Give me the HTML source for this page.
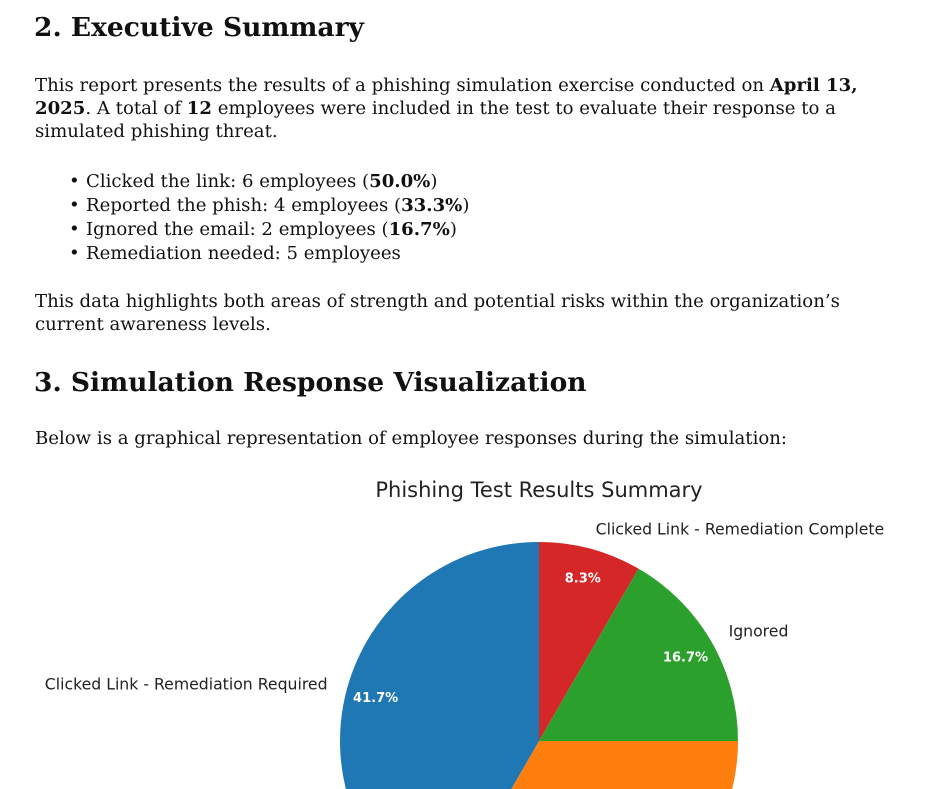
<!DOCTYPE html>
<html><head><meta charset="utf-8"><style>
html,body{overflow:hidden}
body{margin:0;width:946px;height:789px;overflow:hidden;background:#fff;position:relative;font-family:"DejaVu Serif","Liberation Serif",serif;color:#111}
.a{position:absolute;white-space:nowrap}
h2{margin:0;font-size:26.5px;font-weight:bold}
.p{font-size:18.1px;line-height:23px}
ul{margin:0;padding:0;list-style:none}
li{position:relative;padding-left:17px;height:24px}
li:before{content:"•";position:absolute;left:0}
</style></head><body>
<h2 class="a" style="left:34px;top:12px">2. Executive Summary</h2>
<div class="a p" style="left:35px;top:74px">This report presents the results of a phishing simulation exercise conducted on <b>April 13,</b><br><b>2025</b>. A total of <b>12</b> employees were included in the test to evaluate their response to a<br>simulated phishing threat.</div>
<ul class="a p" style="left:69px;top:170px">
<li>Clicked the link: 6 employees (<b>50.0%</b>)</li>
<li>Reported the phish: 4 employees (<b>33.3%</b>)</li>
<li>Ignored the email: 2 employees (<b>16.7%</b>)</li>
<li>Remediation needed: 5 employees</li>
</ul>
<div class="a p" style="left:35px;top:290px">This data highlights both areas of strength and potential risks within the organization’s<br>current awareness levels.</div>
<h2 class="a" style="left:34px;top:367px">3. Simulation Response Visualization</h2>
<div class="a p" style="left:35px;top:427px">Below is a graphical representation of employee responses during the simulation:</div>
<svg class="a" style="left:0;top:0" width="946" height="789" id="chart">
<text x="539" y="497" text-anchor="middle" font-family="DejaVu Sans,sans-serif" font-size="21" fill="#222">Phishing Test Results Summary</text>
</svg>
<script>
const labels=["Clicked Link - Remediation Complete","Ignored","Reported","Clicked Link - Remediation Required"];
const values=[1,2,4,5];
const colors=["#d62728","#2ca02c","#ff7f0e","#1f77b4"];
const svg=document.getElementById('chart');
const NS="http://www.w3.org/2000/svg";
const cx=539,cy=741,r=199;
const total=values.reduce((a,b)=>a+b,0);
let start=90;
function pt(a,rr){const t=a*Math.PI/180;return [cx+rr*Math.cos(t),cy-rr*Math.sin(t)];}
values.forEach((v,i)=>{
  const sweep=v/total*360,end=start-sweep;
  const [x1,y1]=pt(start,r),[x2,y2]=pt(end,r);
  const p=document.createElementNS(NS,'path');
  p.setAttribute('d',`M${cx},${cy}L${x1},${y1}A${r},${r} 0 ${sweep>180?1:0} 1 ${x2},${y2}Z`);
  p.setAttribute('fill',colors[i]);
  
  
  svg.appendChild(p);
  const mid=(start+end)/2;
  const [px,py]=pt(mid,r*0.85);
  const t=document.createElementNS(NS,'text');
  t.setAttribute('x',px);t.setAttribute('y',py+5);
  t.setAttribute('text-anchor','middle');t.setAttribute('fill','#fff');
  t.setAttribute('font-weight','bold');t.setAttribute('font-size','13');
  t.setAttribute('font-family','DejaVu Sans,sans-serif');
  t.textContent=(v/total*100).toFixed(1)+'%';
  
  
  svg.appendChild(t);
  const [lx,ly]=pt(mid,r*1.1);
  const l=document.createElementNS(NS,'text');
  l.setAttribute('x',lx);l.setAttribute('y',ly+5);
  l.setAttribute('text-anchor',Math.cos(mid*Math.PI/180)>=0?'start':'end');
  l.setAttribute('font-size','15.7');l.setAttribute('fill','#222');
  l.setAttribute('font-family','DejaVu Sans,sans-serif');
  l.textContent=labels[i];
  
  
  svg.appendChild(l);
  start=end;
});
</script>
</body></html>
